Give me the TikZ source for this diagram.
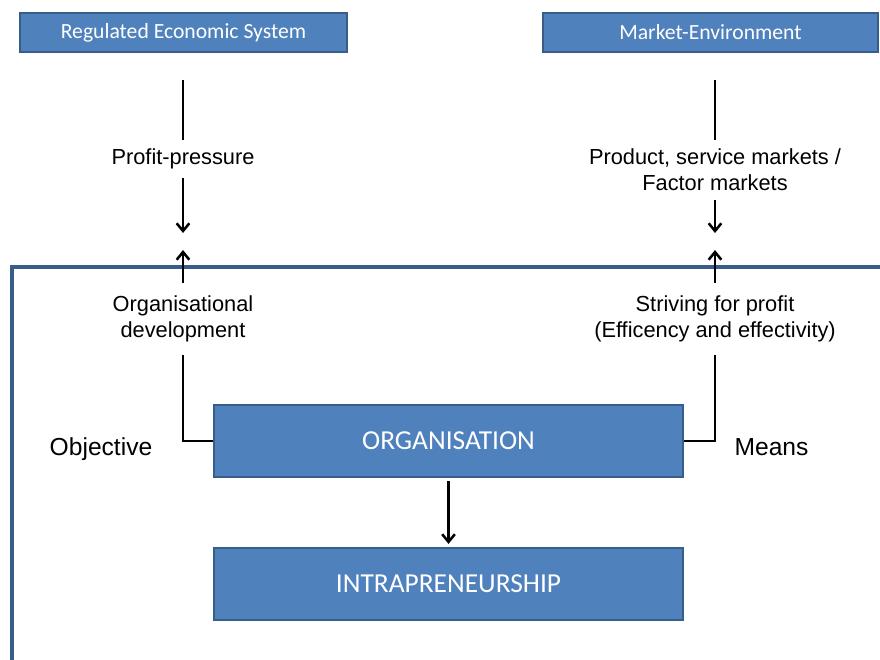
\documentclass[tikz,border=0pt]{standalone}
\usepackage{fontspec}
\setmainfont{Liberation Sans}
\newfontfamily\boxfont{Carlito}
\usepackage{xcolor}
\usetikzlibrary{arrows.meta}

\definecolor{boxblue}{HTML}{4F81BD}
\definecolor{boxedge}{HTML}{385D8A}

\tikzset{
  bluebox/.style={draw=boxedge, line width=1.8pt, fill=boxblue, text=white, inner sep=0pt},
  topbox/.style={bluebox, minimum height=0.975cm, font=\boxfont\fontsize{15.4}{18}\selectfont},
  mainbox/.style={bluebox, minimum width=11.725cm, minimum height=1.8cm, font=\boxfont\fontsize{19.5}{23}\selectfont},
  lbl/.style={align=center, inner sep=6pt, font=\fontsize{15.5}{18.5}\selectfont},
  side/.style={anchor=base, font=\fontsize{17.5}{21}\selectfont},
  link/.style={line width=1.8pt},
  >={Straight Barb[length=5.5pt, width=9pt, line width=1.8pt]}
}

\begin{document}
\begin{tikzpicture}[x=0.025cm, y=-0.025cm]
  \useasboundingbox (0,0) rectangle (880,659);

  \draw[boxedge, line width=2.4pt] (12,665) -- (12,267) -- (890,267);

  \node[topbox, minimum width=8.175cm] (res) at (183.5,32.5) {Regulated Economic System};
  \node[topbox, minimum width=8.375cm] (mkt) at (710.5,32.5) {Market-Environment};

  \node[mainbox] (org) at (448.5,441) {ORGANISATION};
  \node[mainbox] (intra) at (448.5,584) {INTRAPRENEURSHIP};

  \node[lbl] (pp) at (183,159) {Profit-pressure};
  \node[lbl] (pm) at (715,170) {Product, service markets /\\ Factor markets};
  \node[lbl, inner sep=9pt] (od) at (183,319) {Organisational\\ development};
  \node[lbl, inner sep=9pt] (sp) at (715,319) {Striving for profit\\ (Efficency and effectivity)};

  \node[side] (obj) at (101,455) {Objective};
  \node[side] (means) at (771.5,455) {Means};

  \coordinate (l1) at (183,80);
  \coordinate (l2) at (183,233);
  \coordinate (l3) at (183,250);
  \coordinate (r1) at (715,80);
  \coordinate (r2) at (715,233);
  \coordinate (r3) at (715,250);

  \draw[link] (l1) -- (pp);
  \draw[link, ->] (pp) -- (l2);
  \draw[link, ->] (od) -- (l3);
  \draw[link] (od.south) |- (org.west);

  \draw[link] (r1) -- (pm);
  \draw[link, ->] (pm) -- (r2);
  \draw[link, ->] (sp) -- (r3);
  \draw[link] (sp.south) |- (org.east);

  \draw[link, ->, shorten <=2pt, shorten >=2pt] (org) -- (intra);

\end{tikzpicture}
\end{document}
